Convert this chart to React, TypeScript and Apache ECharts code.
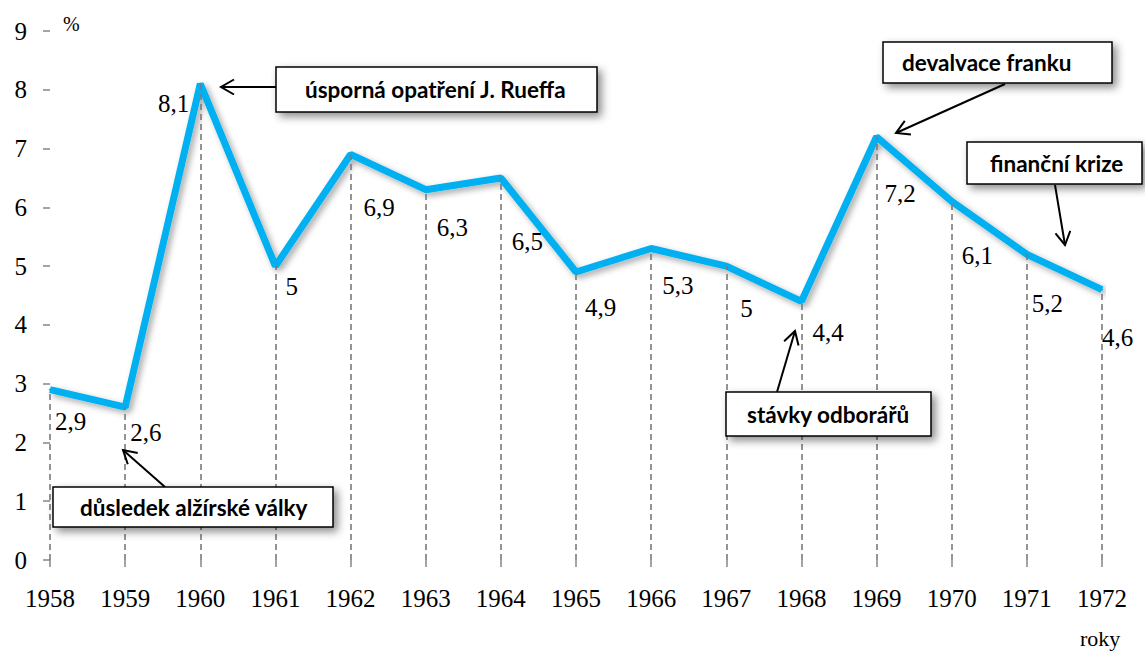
import React, { useEffect, useRef } from "react";
import * as echarts from "echarts";

// ---- data ----
const years = ["1958", "1959", "1960", "1961", "1962", "1963", "1964", "1965", "1966", "1967", "1968", "1969", "1970", "1971", "1972"];
const inflation = [2.9, 2.6, 8.1, 5, 6.9, 6.3, 6.5, 4.9, 5.3, 5, 4.4, 7.2, 6.1, 5.2, 4.6];
const yMin = 0;
const yMax = 9;
const yStep = 1;
const yUnit = "%";
const xUnit = "roky";

// ---- label placement (style, per point) ----
const labelPlacement: { pos: string; off: [number, number] }[] = [
  { pos: "right", off: [4, 32] },
  { pos: "right", off: [4, 25] },
  { pos: "left", off: [-10, 20] },
  { pos: "right", off: [9, 20] },
  { pos: "right", off: [12, 53] },
  { pos: "right", off: [10, 38] },
  { pos: "right", off: [10, 64] },
  { pos: "right", off: [8, 36] },
  { pos: "right", off: [10, 37] },
  { pos: "right", off: [13, 42] },
  { pos: "right", off: [10, 31] },
  { pos: "right", off: [7, 57] },
  { pos: "right", off: [9, 54] },
  { pos: "right", off: [4, 49] },
  { pos: "right", off: [-1, 48] },
];

// ---- annotations ----
const annotationTexts = [
  "úsporná opatření J. Rueffa",
  "důsledek alžírské války",
  "stávky odborářů",
  "devalvace franku",
  "finanční krize",
];
const annotationLayout = [
  { box: [276, 67, 321, 45], textX: 305, from: [277, 87], to: [221, 87] },
  { box: [53, 487, 280, 40], textX: 80, from: [165, 487], to: [123, 450] },
  { box: [726, 392, 205, 44], textX: 747, from: [777, 392], to: [795, 331] },
  { box: [883, 42, 229, 41], textX: 902, from: [1005, 84], to: [896, 133] },
  { box: [967, 142, 175, 42], textX: 990, from: [1055, 185], to: [1065, 245] },
];

const serif = "'Liberation Serif', 'Times New Roman', serif";
const sans = "Lato, 'Noto Sans', sans-serif";

function arrowElements(from: number[], to: number[]) {
  const [x1, y1] = from;
  const [x2, y2] = to;
  const dx = x2 - x1;
  const dy = y2 - y1;
  const len = Math.hypot(dx, dy);
  const ux = dx / len;
  const uy = dy / len;
  const L = 13;
  const W = 7.5;
  const bx = x2 - ux * L;
  const by = y2 - uy * L;
  const px = -uy;
  const py = ux;
  return [
    {
      type: "line",
      z: 100,
      shape: { x1, y1, x2, y2 },
      style: { stroke: "#000", lineWidth: 2 },
    },
    {
      type: "polyline",
      z: 100,
      shape: {
        points: [
          [bx + px * W, by + py * W],
          [x2, y2],
          [bx - px * W, by - py * W],
        ],
      },
      style: { stroke: "#000", lineWidth: 2, fill: null },
    },
  ];
}

export default function App() {
  const ref = useRef<HTMLDivElement>(null);

  useEffect(() => {
    if (!ref.current) return;
    const chart = echarts.init(ref.current, null, { renderer: "svg" });

    const graphics: any[] = [];
    annotationTexts.forEach((t, i) => {
      const a = annotationLayout[i];
      const [bx, by, bw, bh] = a.box;
      graphics.push(...arrowElements(a.from, a.to));
      graphics.push({
        type: "rect",
        z: 101,
        shape: { x: bx, y: by, width: bw, height: bh },
        style: {
          fill: "#fff",
          stroke: "#000",
          lineWidth: 1.5,
          shadowBlur: 8,
          shadowOffsetX: 4,
          shadowOffsetY: 4,
          shadowColor: "rgba(0,0,0,0.45)",
        },
      });
      graphics.push({
        type: "text",
        z: 102,
        x: a.textX,
        y: by + bh / 2,
        style: {
          text: t,
          font: `bold 22.5px ${sans}`,
          fill: "#000",
          textAlign: "left",
          textVerticalAlign: "middle",
        },
      });
    });
    graphics.push({
      type: "text",
      z: 100,
      x: 63,
      y: 24,
      style: { text: yUnit, font: `20px ${serif}`, fill: "#000", textVerticalAlign: "middle" },
    });
    graphics.push({
      type: "text",
      z: 100,
      x: 1080,
      y: 638,
      style: { text: xUnit, font: `22px ${serif}`, fill: "#000", textVerticalAlign: "middle" },
    });

    const axisLineStyle = {
      color: "#868686",
      width: 1.5,
      shadowBlur: 4,
      shadowOffsetX: 2,
      shadowOffsetY: 2,
      shadowColor: "rgba(0,0,0,0.2)",
    };

    chart.setOption({
      animation: false,
      backgroundColor: "#fff",
      grid: { left: 50, right: 43, top: 31, bottom: 92, containLabel: false },
      xAxis: {
        type: "category",
        data: years,
        boundaryGap: false,
        axisLine: { show: true, lineStyle: axisLineStyle },
        axisTick: { show: true, length: 7, lineStyle: { color: "#868686", width: 1.5 } },
        axisLabel: { margin: 26, fontFamily: serif, fontSize: 25, color: "#000" },
        splitLine: { show: false },
      },
      yAxis: {
        type: "value",
        min: yMin,
        max: yMax,
        interval: yStep,
        axisLine: { show: true, lineStyle: axisLineStyle },
        axisTick: { show: true, length: 7, lineStyle: { color: "#868686", width: 1.5 } },
        axisLabel: { margin: 23, fontFamily: serif, fontSize: 25, color: "#000" },
        splitLine: { show: false },
      },
      series: [
        {
          type: "line",
          z: 1,
          data: inflation,
          symbol: "none",
          lineStyle: { opacity: 0 },
          silent: true,
          markLine: {
            silent: true,
            symbol: ["none", "none"],
            label: { show: false },
            lineStyle: { color: "#7a7a7a", width: 1.6, type: [6, 4] },
            data: inflation.map((v, i) => [
              { coord: [i, 0] },
              { coord: [i, v] },
            ]),
          },
        },
        {
          type: "line",
          z: 3,
          data: inflation.map((v, i) => ({
            value: v,
            label: {
              position: labelPlacement[i].pos,
              offset: labelPlacement[i].off,
            },
          })),
          symbol: "circle",
          symbolSize: 2,
          itemStyle: { color: "#00B0F0" },
          lineStyle: {
            color: "#00B0F0",
            width: 7,
            shadowBlur: 6,
            shadowOffsetX: 3,
            shadowOffsetY: 3,
            shadowColor: "rgba(0,0,0,0.35)",
          },
          label: {
            show: true,
            distance: 0,
            fontFamily: serif,
            fontSize: 25,
            color: "#000",
            formatter: (p: any) => String(p.value).replace(".", ","),
          },
        },
      ],
      graphic: graphics,
    });

    return () => chart.dispose();
  }, []);

  return (
    <div
      ref={ref}
      style={{ position: "fixed", left: 0, top: 0, width: 1145, height: 652, background: "#fff" }}
    />
  );
}
